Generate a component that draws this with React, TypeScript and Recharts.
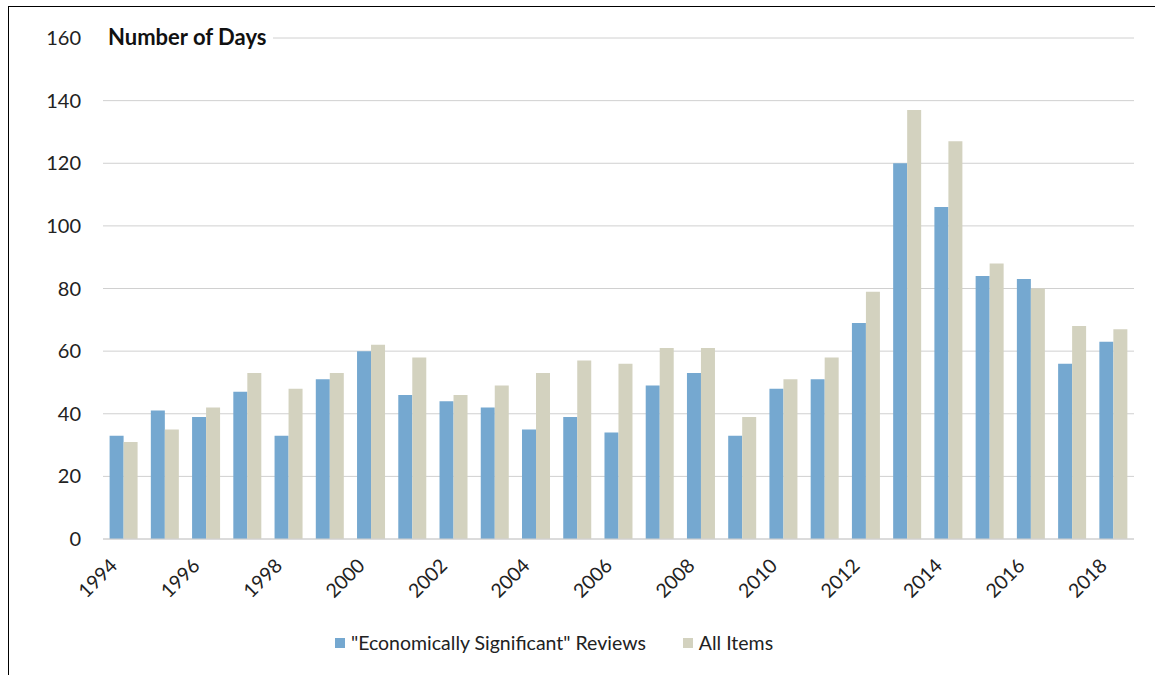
import { BarChart, Bar, XAxis, YAxis, CartesianGrid, Legend } from 'recharts'

const years = [
  '1994', '1995', '1996', '1997', '1998', '1999', '2000', '2001', '2002', '2003',
  '2004', '2005', '2006', '2007', '2008', '2009', '2010', '2011', '2012', '2013',
  '2014', '2015', '2016', '2017', '2018',
]

const econSignificant = [
  33, 41, 39, 47, 33, 51, 60, 46, 44, 42,
  35, 39, 34, 49, 53, 33, 48, 51, 69, 120,
  106, 84, 83, 56, 63,
]

const allItems = [
  31, 35, 42, 53, 48, 53, 62, 58, 46, 49,
  53, 57, 56, 61, 61, 39, 51, 58, 79, 137,
  127, 88, 80, 68, 67,
]

const yTicks = [0, 20, 40, 60, 80, 100, 120, 140, 160]

const seriesNames = ['"Economically Significant" Reviews', 'All Items']
const colors = ['#75a8d0', '#d3d2bf']

const data = years.map((year, i) => ({
  year,
  econ: econSignificant[i],
  all: allItems[i],
}))

const font = 'Lato, "Open Sans", sans-serif'

// rotated year labels, right end sits just under the category
const YearTick = (props: any) => {
  const { x, y, payload } = props
  const ax = x - 5
  const ay = y + 20
  return (
    <text
      x={ax}
      y={ay}
      transform={`rotate(-45, ${ax}, ${ay})`}
      textAnchor="end"
      fontSize={19.5}
      fontFamily={font}
      fill="#222"
    >
      {payload.value}
    </text>
  )
}

const renderLegend = () => (
  <div
    style={{
      display: 'flex',
      justifyContent: 'center',
      gap: 37,
      fontFamily: font,
      fontSize: 19.5,
      color: '#222',
      paddingRight: 35,
      paddingTop: 14,
    }}
  >
    {seriesNames.map((name, i) => (
      <div key={name} style={{ display: 'flex', alignItems: 'center', gap: 6 }}>
        <span style={{ width: 10, height: 10, background: colors[i], display: 'inline-block' }} />
        <span>{name}</span>
      </div>
    ))}
  </div>
)

export default function App() {
  return (
    <div
      style={{
        position: 'absolute',
        left: 8,
        top: 6,
        width: 1147,
        height: 669,
        borderTop: '1px solid #000',
        borderLeft: '1px solid #000',
        background: '#fff',
      }}
    >
      <BarChart
        width={1147}
        height={660}
        data={data}
        margin={{ top: 31, right: 22, left: 0, bottom: 0 }}
        barGap={0}
        barCategoryGap="16%"
      >
        <CartesianGrid vertical={false} stroke="#d0d0d0" />
        <XAxis
          dataKey="year"
          interval={1}
          height={78}
          axisLine={{ stroke: '#d0d0d0' }}
          tickLine={false}
          tick={<YearTick />}
        />
        <YAxis
          width={94}
          domain={[0, 160]}
          ticks={yTicks}
          axisLine={false}
          tickLine={false}
          tickSize={0}
          tickMargin={22}
          tick={{ fontSize: 20, fontFamily: font, fill: '#222' }}
        />
        <Legend verticalAlign="bottom" height={50} content={renderLegend} />
        <Bar dataKey="econ" name={seriesNames[0]} fill={colors[0]} isAnimationActive={false} />
        <Bar dataKey="all" name={seriesNames[1]} fill={colors[1]} isAnimationActive={false} />
      </BarChart>
      <div
        style={{
          position: 'absolute',
          left: 93,
          top: 17,
          padding: '0 7px 0 6px',
          lineHeight: '26px',
          background: '#fff',
          fontFamily: font,
          fontWeight: 'bold',
          fontSize: 22,
          color: '#111',
        }}
      >
        Number of Days
      </div>
    </div>
  )
}
